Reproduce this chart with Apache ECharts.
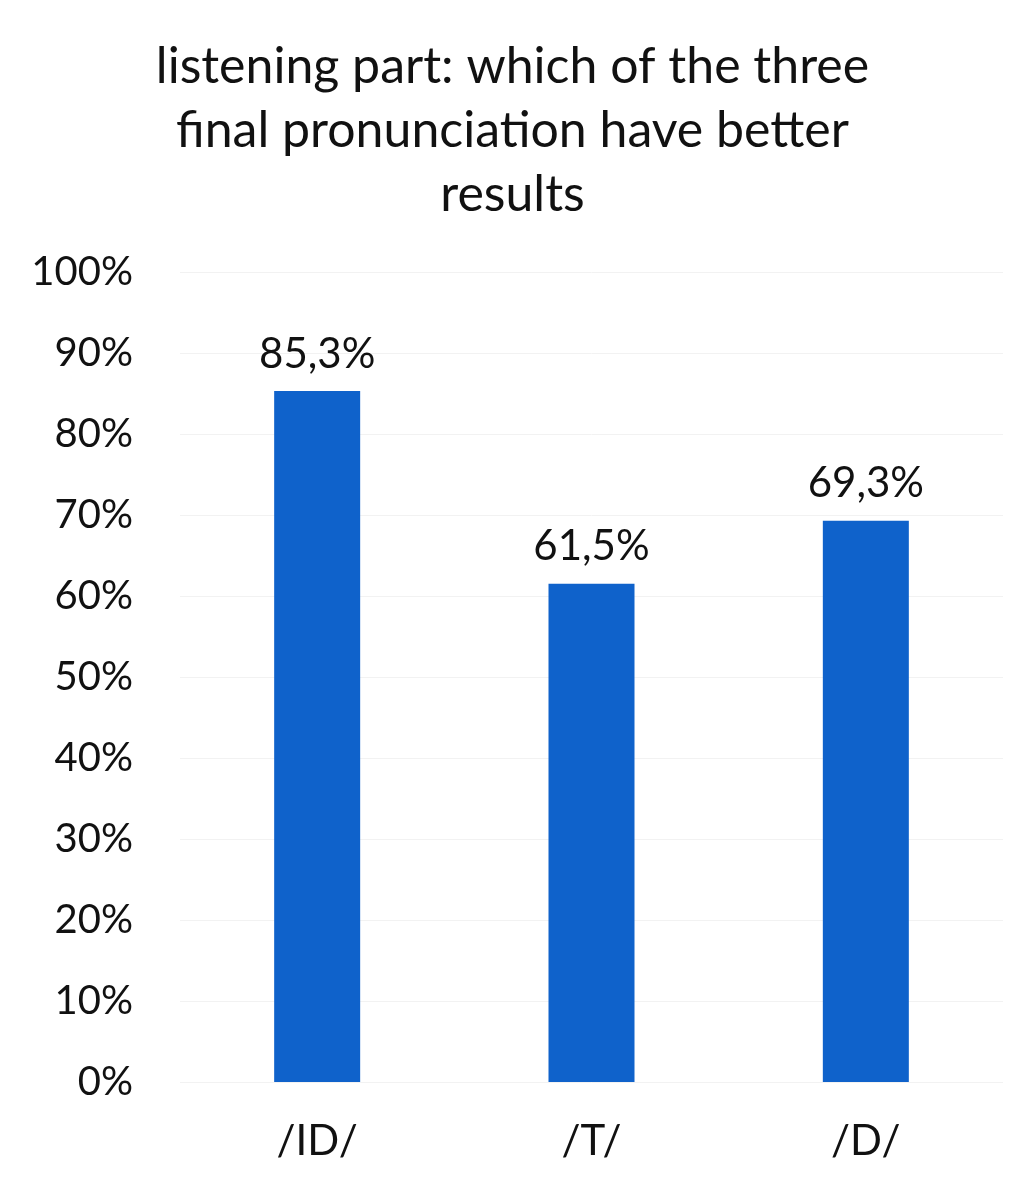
<!DOCTYPE html>
<html>
<head>
<meta charset="utf-8">
<script src="https://cdn.jsdelivr.net/npm/echarts@6/dist/echarts.min.js"></script>
<style>
  html, body { margin: 0; padding: 0; background: #fff; }
  #main { width: 1025px; height: 1184px; }
</style>
</head>
<body>
<div id="main"></div>
<script>
// data
var categories = ['/ID/', '/T/', '/D/'];
var values = [85.3, 61.5, 69.3];
var yTicks = [0, 10, 20, 30, 40, 50, 60, 70, 80, 90, 100];

var fontName = 'Lato, "Open Sans", sans-serif';

var myChart = echarts.init(document.getElementById('main'));
myChart.setOption({
    animation: false,
    title: {
        text: 'listening part: which of the three\nfinal pronunciation have better\nresults',
        left: 'center',
        top: 30,
        textStyle: {
            fontFamily: fontName,
            fontSize: 50,
            fontWeight: 'normal',
            lineHeight: 64,
            color: '#111'
        }
    },
    grid: { left: 180, right: 22, top: 272, bottom: 102 },
    xAxis: {
        type: 'category',
        data: categories,
        axisLine: { show: false },
        axisTick: { show: false },
        axisLabel: {
            margin: 38,
            fontFamily: fontName,
            fontSize: 42,
            color: '#111'
        }
    },
    yAxis: {
        type: 'value',
        min: yTicks[0],
        max: yTicks[yTicks.length - 1],
        interval: 10,
        axisLine: { show: false },
        axisTick: { show: false },
        splitLine: { lineStyle: { color: '#f2f2f2', width: 1 } },
        axisLabel: {
            margin: 47,
            fontFamily: fontName,
            fontSize: 40,
            color: '#111',
            formatter: function (v) { return v + '%'; }
        }
    },
    series: [{
        type: 'bar',
        data: values,
        barWidth: 86,
        itemStyle: { color: '#0f62cb' },
        label: {
            show: true,
            position: 'top',
            distance: 16,
            fontFamily: fontName,
            fontSize: 42,
            color: '#111',
            formatter: function (p) { return p.value.toFixed(1).replace('.', ',') + '%'; }
        }
    }]
});
</script>
</body>
</html>
